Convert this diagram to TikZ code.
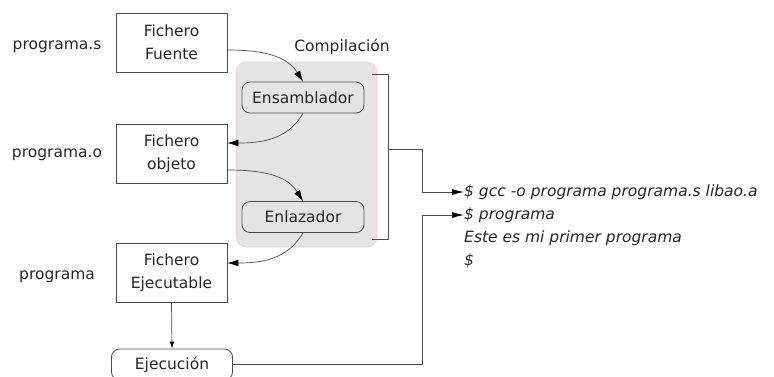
\documentclass[tikz,border=0pt]{standalone}
\usepackage{fontspec}
\setmainfont{DejaVu Sans}
\usetikzlibrary{arrows.meta}
\definecolor{ink}{HTML}{262626}
\definecolor{edge}{HTML}{4A4A4A}
\definecolor{groupfill}{HTML}{E4E4E4}
\definecolor{groupline}{HTML}{F0D4D4}
\begin{document}
\begin{tikzpicture}[x=1pt,y=-1pt,
  every node/.style={font=\fontsize{15.5}{23}\selectfont, text=ink},
  filebox/.style={draw=edge, line width=0.8pt, minimum width=111, minimum height=59, align=center, inner sep=0pt},
  tool/.style={draw=edge, line width=0.8pt, rounded corners=8pt, minimum width=122, minimum height=31, inner sep=0pt},
  label/.style={inner sep=0pt},
  cmd/.style={inner sep=0pt, anchor=west, font=\fontsize{15.5}{23}\selectfont\itshape},
  tip/.style={-{Latex[length=11pt,width=7pt,fill=black,color=black]}},
  flow/.style={draw=edge, line width=0.7pt, tip},
  link/.style={draw=edge, line width=0.7pt}]
\useasboundingbox (0,0) rectangle (774,376);
\clip (0,0) rectangle (774,376);

% compilation group background
\node[draw=groupline, fill=groupfill, line width=0.6pt, rounded corners=10pt,
      minimum width=141, minimum height=185, inner sep=0pt] (grp) at (306.5,154.5) {};
\node[label] (comp) at (342,47) {Compilación};

% file boxes
\node[filebox] (src) at (171.5,42.5) {Fichero\\Fuente};
\node[filebox] (obj) at (171.5,154) {Fichero\\objeto};
\node[filebox] (exe) at (171.5,273) {Fichero\\Ejecutable};

% file names
\node[label] (ns) at (57,47) {programa.s};
\node[label] (no) at (57,155) {programa.o};
\node[label] (ne) at (57,277) {programa};

% tools
\node[tool] (asm) at (303,97.5) {Ensamblador};
\node[tool] (lnk) at (303,217) {Enlazador};
\node[tool, minimum width=121] (run) at (172,364.5) {Ejecución};

% shell session
\node[cmd] (gcc) at (464,192) {\$ gcc -o programa programa.s libao.a};
\node[cmd] (prog) at (464,215) {\$ programa};
\node[cmd] (msg) at (464,238) {Este es mi primer programa};
\node[cmd] (prompt) at (464,261) {\$};

% build flow
\draw[flow] (src.east |- 0,50) to[out=0,in=122] (asm.north);
\draw[flow] (asm.south) to[out=-120,in=0] (obj.east |- 0,143);
\draw[flow] (obj.east |- 0,170) to[out=0,in=122] (lnk.north);
\draw[flow] (lnk.south) to[out=-120,in=0] (exe.east |- 0,263);
\draw[link, -{Latex[length=7pt,width=4.5pt,fill=black,color=black]}] (exe.south) -- (run.north);

% bracket around the compilation step
\coordinate (btop) at (372,74);
\coordinate (bbot) at (372,239);
\coordinate (bmid) at (388,149);
\coordinate (bus) at (422,0);
\draw[link] (btop) -- (388,74) -- (388,239) -- (bbot);
\draw[link, -{Latex[length=12pt,width=6pt,fill=black,color=black]}] (bmid) -- (bmid -| bus) |- (gcc.west);
\draw[link, -{Latex[length=12pt,width=6pt,fill=black,color=black]}] (run.east) -- (run.east -| bus) |- (prog.west);
\end{tikzpicture}
\end{document}
